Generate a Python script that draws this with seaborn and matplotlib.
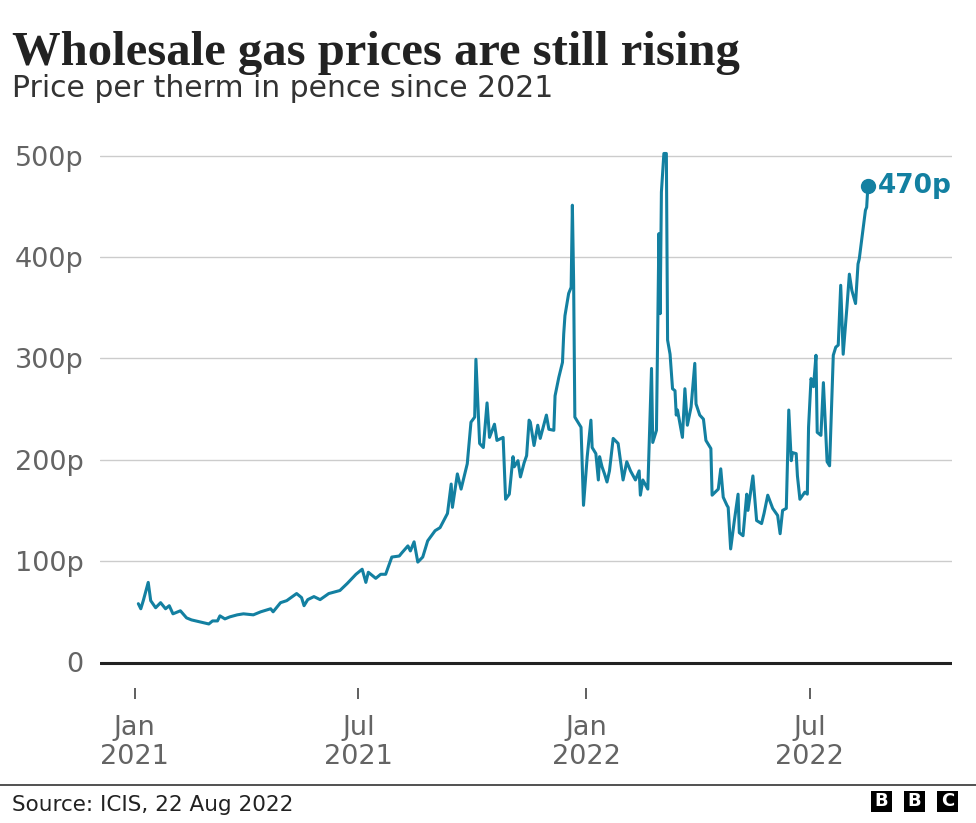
import matplotlib
matplotlib.use("Agg")
import matplotlib.pyplot as plt
import matplotlib.patches as mpatches
import seaborn as sns
import pandas as pd

# ---- data ----
dates = [
    "2021-01-04", "2021-01-06", "2021-01-08", "2021-01-12", "2021-01-14", "2021-01-18",
    "2021-01-22", "2021-01-26", "2021-01-29", "2021-02-01", "2021-02-07", "2021-02-12",
    "2021-02-16", "2021-02-23", "2021-03-02", "2021-03-05", "2021-03-09", "2021-03-11",
    "2021-03-15", "2021-03-19", "2021-03-25", "2021-03-30", "2021-04-07", "2021-04-13",
    "2021-04-21", "2021-04-23", "2021-04-29", "2021-05-04", "2021-05-12", "2021-05-16",
    "2021-05-18", "2021-05-21", "2021-05-26", "2021-05-31", "2021-06-07", "2021-06-16",
    "2021-06-22", "2021-06-29", "2021-07-04", "2021-07-07", "2021-07-09", "2021-07-15",
    "2021-07-19", "2021-07-23", "2021-07-28", "2021-08-03", "2021-08-05", "2021-08-10",
    "2021-08-12", "2021-08-15", "2021-08-18", "2021-08-22", "2021-08-26", "2021-09-01",
    "2021-09-05", "2021-09-11", "2021-09-14", "2021-09-15", "2021-09-19", "2021-09-22",
    "2021-09-27", "2021-09-30", "2021-10-03", "2021-10-04", "2021-10-07", "2021-10-10",
    "2021-10-13", "2021-10-15", "2021-10-19", "2021-10-21", "2021-10-26", "2021-10-28",
    "2021-10-31", "2021-11-03", "2021-11-04", "2021-11-07", "2021-11-09", "2021-11-12",
    "2021-11-14", "2021-11-16", "2021-11-17", "2021-11-20", "2021-11-23", "2021-11-25",
    "2021-11-30", "2021-12-02", "2021-12-06", "2021-12-07", "2021-12-10", "2021-12-13",
    "2021-12-14", "2021-12-15", "2021-12-18", "2021-12-20", "2021-12-21", "2021-12-22",
    "2021-12-23", "2021-12-28", "2021-12-30", "2022-01-02", "2022-01-05", "2022-01-06",
    "2022-01-09", "2022-01-11", "2022-01-12", "2022-01-14", "2022-01-16", "2022-01-18",
    "2022-01-20", "2022-01-23", "2022-01-27", "2022-01-31", "2022-02-03", "2022-02-06",
    "2022-02-10", "2022-02-13", "2022-02-14", "2022-02-16", "2022-02-20", "2022-02-23",
    "2022-02-24", "2022-02-27", "2022-03-01", "2022-03-02", "2022-03-03", "2022-03-05",
    "2022-03-07", "2022-03-08", "2022-03-10", "2022-03-12", "2022-03-14", "2022-03-15",
    "2022-03-16", "2022-03-20", "2022-03-22", "2022-03-24", "2022-03-27", "2022-03-30",
    "2022-03-31", "2022-04-03", "2022-04-06", "2022-04-08", "2022-04-12", "2022-04-13",
    "2022-04-18", "2022-04-20", "2022-04-22", "2022-04-25", "2022-04-26", "2022-04-28",
    "2022-05-01", "2022-05-04", "2022-05-05", "2022-05-08", "2022-05-11", "2022-05-12",
    "2022-05-16", "2022-05-19", "2022-05-23", "2022-05-25", "2022-05-28", "2022-06-01",
    "2022-06-05", "2022-06-07", "2022-06-09", "2022-06-12", "2022-06-14", "2022-06-16",
    "2022-06-17", "2022-06-20", "2022-06-21", "2022-06-23", "2022-06-27", "2022-06-29",
    "2022-06-30", "2022-07-02", "2022-07-04", "2022-07-06", "2022-07-07", "2022-07-10",
    "2022-07-12", "2022-07-15", "2022-07-17", "2022-07-20", "2022-07-22", "2022-07-24",
    "2022-07-26", "2022-07-28", "2022-07-31", "2022-08-02", "2022-08-04", "2022-08-07",
    "2022-08-09", "2022-08-10", "2022-08-15", "2022-08-16", "2022-08-17",
]
prices = [
    58, 53, 61, 79, 61, 54,
    59, 53, 56, 48, 51, 44,
    42, 40, 38, 41, 41, 46,
    43, 45, 47, 48, 47, 50,
    53, 50, 59, 61, 68, 64,
    56, 62, 65, 62, 68, 71,
    78, 87, 92, 79, 89, 83,
    87, 87, 104, 105, 108, 115,
    110, 119, 99, 104, 120, 130,
    133, 147, 176, 153, 186, 171,
    196, 237, 242, 299, 216, 212,
    256, 222, 235, 219, 222, 161,
    166, 203, 193, 199, 183, 197,
    204, 239, 237, 214, 234, 221,
    244, 230, 229, 263, 281, 296,
    324, 342, 364, 370, 451, 377,
    242, 232, 155, 203, 239, 212,
    206, 180, 203, 193, 186, 178,
    189, 221, 216, 180, 198, 189,
    180, 189, 165, 180, 171, 290,
    217, 229, 423, 344, 464, 502,
    502, 318, 304, 270, 268, 244,
    249, 222, 270, 234, 252, 295,
    255, 244, 240, 219, 211, 165,
    171, 191, 163, 155, 153, 112,
    140, 166, 128, 125, 166, 150,
    184, 140, 137, 147, 165, 152,
    145, 127, 150, 152, 249, 199,
    207, 206, 184, 161, 168, 166,
    232, 280, 272, 303, 227, 224,
    276, 198, 194, 303, 311, 313,
    372, 304, 350, 383, 367, 354,
    393, 398, 446, 449, 470,
]
y_ticks = [0, 100, 200, 300, 400, 500]
y_tick_labels = ["0", "100p", "200p", "300p", "400p", "500p"]
x_ticks = ["2021-01-01", "2021-07-01", "2022-01-01", "2022-07-01"]
x_tick_labels = ["Jan\n2021", "Jul\n2021", "Jan\n2022", "Jul\n2022"]
end_label = "470p"

df = pd.DataFrame({"date": pd.to_datetime(dates), "price": prices})

# ---- style ----
W, H = 976, 823
sns.set_style("white")
plt.rcParams["font.family"] = ["DejaVu Sans"]

BLUE = "#1380A1"
GREY_TXT = "#646464"

fig = plt.figure(figsize=(W / 100, H / 100), dpi=100)
ax_left, ax_right = 100, 952
px_per_unit = 1.014
y0_px = 662.5
ylim_lo, ylim_hi = -25.5, 520
ax_bottom = y0_px - ylim_lo * px_per_unit
ax_top = y0_px - ylim_hi * px_per_unit
ax = fig.add_axes([ax_left / W, 1 - ax_bottom / H, (ax_right - ax_left) / W, (ax_bottom - ax_top) / H])

sns.lineplot(data=df, x="date", y="price", ax=ax, color=BLUE, linewidth=2.2)

last = df.iloc[-1]
ax.plot([last["date"]], [last["price"]], "o", color=BLUE, markersize=10, zorder=5)
ax.annotate(end_label, (last["date"], last["price"]), xytext=(7, 0), textcoords="offset points",
            ha="left", va="center", color=BLUE, fontsize=19, fontweight="bold")

ax.set_ylim(ylim_lo, ylim_hi)
ax.set_xlim(pd.Timestamp("2020-12-04"), pd.Timestamp("2022-10-24"))

ax.set_yticks(y_ticks)
ax.set_yticklabels(y_tick_labels)
ax.set_xticks(pd.to_datetime(x_ticks))
ax.set_xticklabels(x_tick_labels, linespacing=1.15)

for v in y_ticks[1:]:
    ax.axhline(v, color="#cccccc", linewidth=1.0, zorder=0)
ax.axhline(0, color="#222222", linewidth=2.2, zorder=1)

ax.tick_params(axis="y", left=False, length=0, pad=12, labelsize=19.5, labelcolor=GREY_TXT)
ax.tick_params(axis="x", bottom=True, length=8, width=1.2, color="#444444", pad=11, labelsize=19.5,
               labelcolor=GREY_TXT, direction="out")
for s in ax.spines.values():
    s.set_visible(False)
ax.set_xlabel("")
ax.set_ylabel("")
ax.grid(False)

# ---- titles ----
fig.text(12 / W, 1 - 65 / H, "Wholesale gas prices are still rising", ha="left", va="baseline",
         fontsize=35, fontweight="bold", family=["Liberation Serif"], color="#222222")
fig.text(12 / W, 1 - 97 / H, "Price per therm in pence since 2021", ha="left", va="baseline",
         fontsize=21.5, color="#333333")

# ---- footer ----
fig.add_artist(plt.Line2D([0, 1], [1 - 785 / H, 1 - 785 / H], transform=fig.transFigure,
                          color="#333333", linewidth=1.2))
fig.text(12 / W, 1 - 811 / H, "Source: ICIS, 22 Aug 2022", ha="left", va="baseline",
         fontsize=15.5, color="#222222")
sq = 21
for i, letter in enumerate("BBC"):
    x0 = 871 + i * 33
    fig.add_artist(mpatches.Rectangle((x0 / W, 1 - 812 / H), sq / W, sq / H, transform=fig.transFigure,
                                      facecolor="black", edgecolor="none"))
    fig.text((x0 + sq / 2) / W, 1 - 801.5 / H, letter, ha="center", va="center", color="white",
             fontsize=13, fontweight="bold")

fig.savefig("out.png", dpi=100)
